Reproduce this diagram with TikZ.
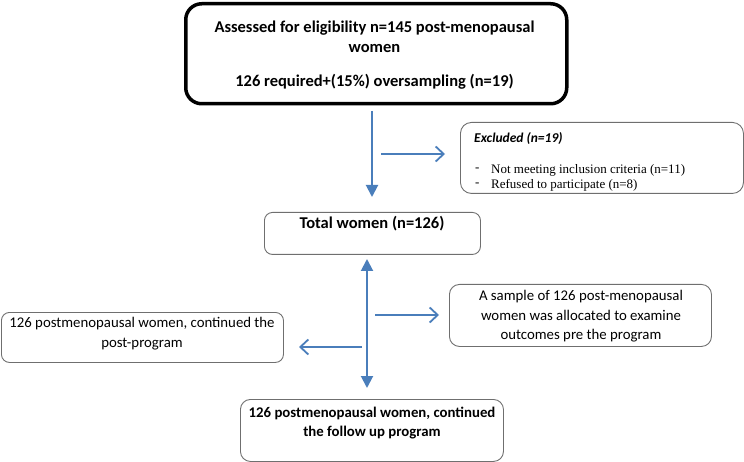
\documentclass[tikz,border=0pt]{standalone}
\usepackage{fontspec}
\setmainfont{Carlito}
\newfontfamily\tms{Liberation Serif}
\usetikzlibrary{arrows.meta}
\definecolor{arrblue}{HTML}{4A7EBB}
\definecolor{boxgray}{HTML}{6F6F6F}
\begin{document}
\begin{tikzpicture}[x=1pt,y=-1pt,
  box/.style={draw=boxgray, line width=0.9pt, rounded corners=8pt, anchor=north west, inner sep=0pt},
  txt/.style={font=\fontsize{14.8}{19.5}\selectfont, align=center, inner sep=0pt},
  btxt/.style={font=\fontsize{14.8}{19}\selectfont\bfseries, align=center, inner sep=0pt},
  bigtxt/.style={font=\fontsize{16.5}{20}\selectfont\bfseries, align=center, inner sep=0pt},
  serif/.style={anchor=west, inner sep=0pt, font=\tms\fontsize{13}{15}\selectfont},
  filledarrow/.style={draw=arrblue, line width=2pt, -{Triangle[length=12pt,width=12pt]}},
  openarrow/.style={draw=arrblue, line width=1.8pt, -{Straight Barb[length=8pt,width=15pt,line width=1.8pt]}}
]
\useasboundingbox (0,0) rectangle (744,462);

% top box
\node[box, draw=black, line width=3.5pt, rounded corners=16pt, minimum width=381pt, minimum height=100pt] (top) at (184,2) {};
\node[bigtxt] (toptxt) at (374.5,37) {Assessed for eligibility n=145 post-menopausal\\women};
\node[bigtxt] (toptxtb) at (374.5,82) {126 required+(15\%) oversampling (n=19)};

% excluded box
\node[box, rounded corners=11pt, minimum width=283pt, minimum height=71pt] (excl) at (460,122) {};
\node[anchor=west, inner sep=0pt, font=\fontsize{13.5}{15}\selectfont\bfseries\itshape] (excltitle) at (474,139) {Excluded (n=19)};
\node[serif] (d1) at (475,170) {-};
\node[serif] (e1) at (491,170) {Not meeting inclusion criteria (n=11)};
\node[serif] (d2) at (475,185) {-};
\node[serif] (e2) at (491,185) {Refused to participate (n=8)};

% total box
\node[box, minimum width=216pt, minimum height=42pt] (total) at (264,212) {};
\node[bigtxt] (totaltxt) at (372,224) {Total women (n=126)};

% sample box
\node[box, rounded corners=10pt, minimum width=262pt, minimum height=62pt] (sample) at (449,284) {};
\node[txt] (sampletxt) at (581,316.5) {A sample of 126 post-menopausal\\women was allocated to examine\\outcomes pre the program};

% left box
\node[box, minimum width=282pt, minimum height=50pt] (left) at (1,312) {};
\node[txt, font=\fontsize{14.8}{20}\selectfont] (lefttxt) at (142,334) {126 postmenopausal women, continued the\\post-program};

% bottom box
\node[box, rounded corners=10pt, minimum width=263pt, minimum height=62pt] (bottom) at (240,399) {};
\node[btxt] (bottomtxt) at (372,423.5) {126 postmenopausal women, continued\\the follow up program};

% connectors
\coordinate (a1s) at (372,111);
\coordinate (a1e) at (372,197);
\draw[filledarrow] (a1s) -- (a1e);
\coordinate (a2s) at (381,154);
\coordinate (a2e) at (445,154);
\draw[openarrow] (a2s) -- (a2e);
\coordinate (a3s) at (367,259);
\coordinate (a3e) at (367,388);
\draw[filledarrow, {Triangle[length=12pt,width=12pt]}-{Triangle[length=12pt,width=12pt]}] (a3s) -- (a3e);
\coordinate (a4s) at (375,315);
\coordinate (a4e) at (439,315);
\draw[openarrow] (a4s) -- (a4e);
\coordinate (a5s) at (362,347);
\coordinate (a5e) at (299,347);
\draw[openarrow] (a5s) -- (a5e);
\end{tikzpicture}
\end{document}
